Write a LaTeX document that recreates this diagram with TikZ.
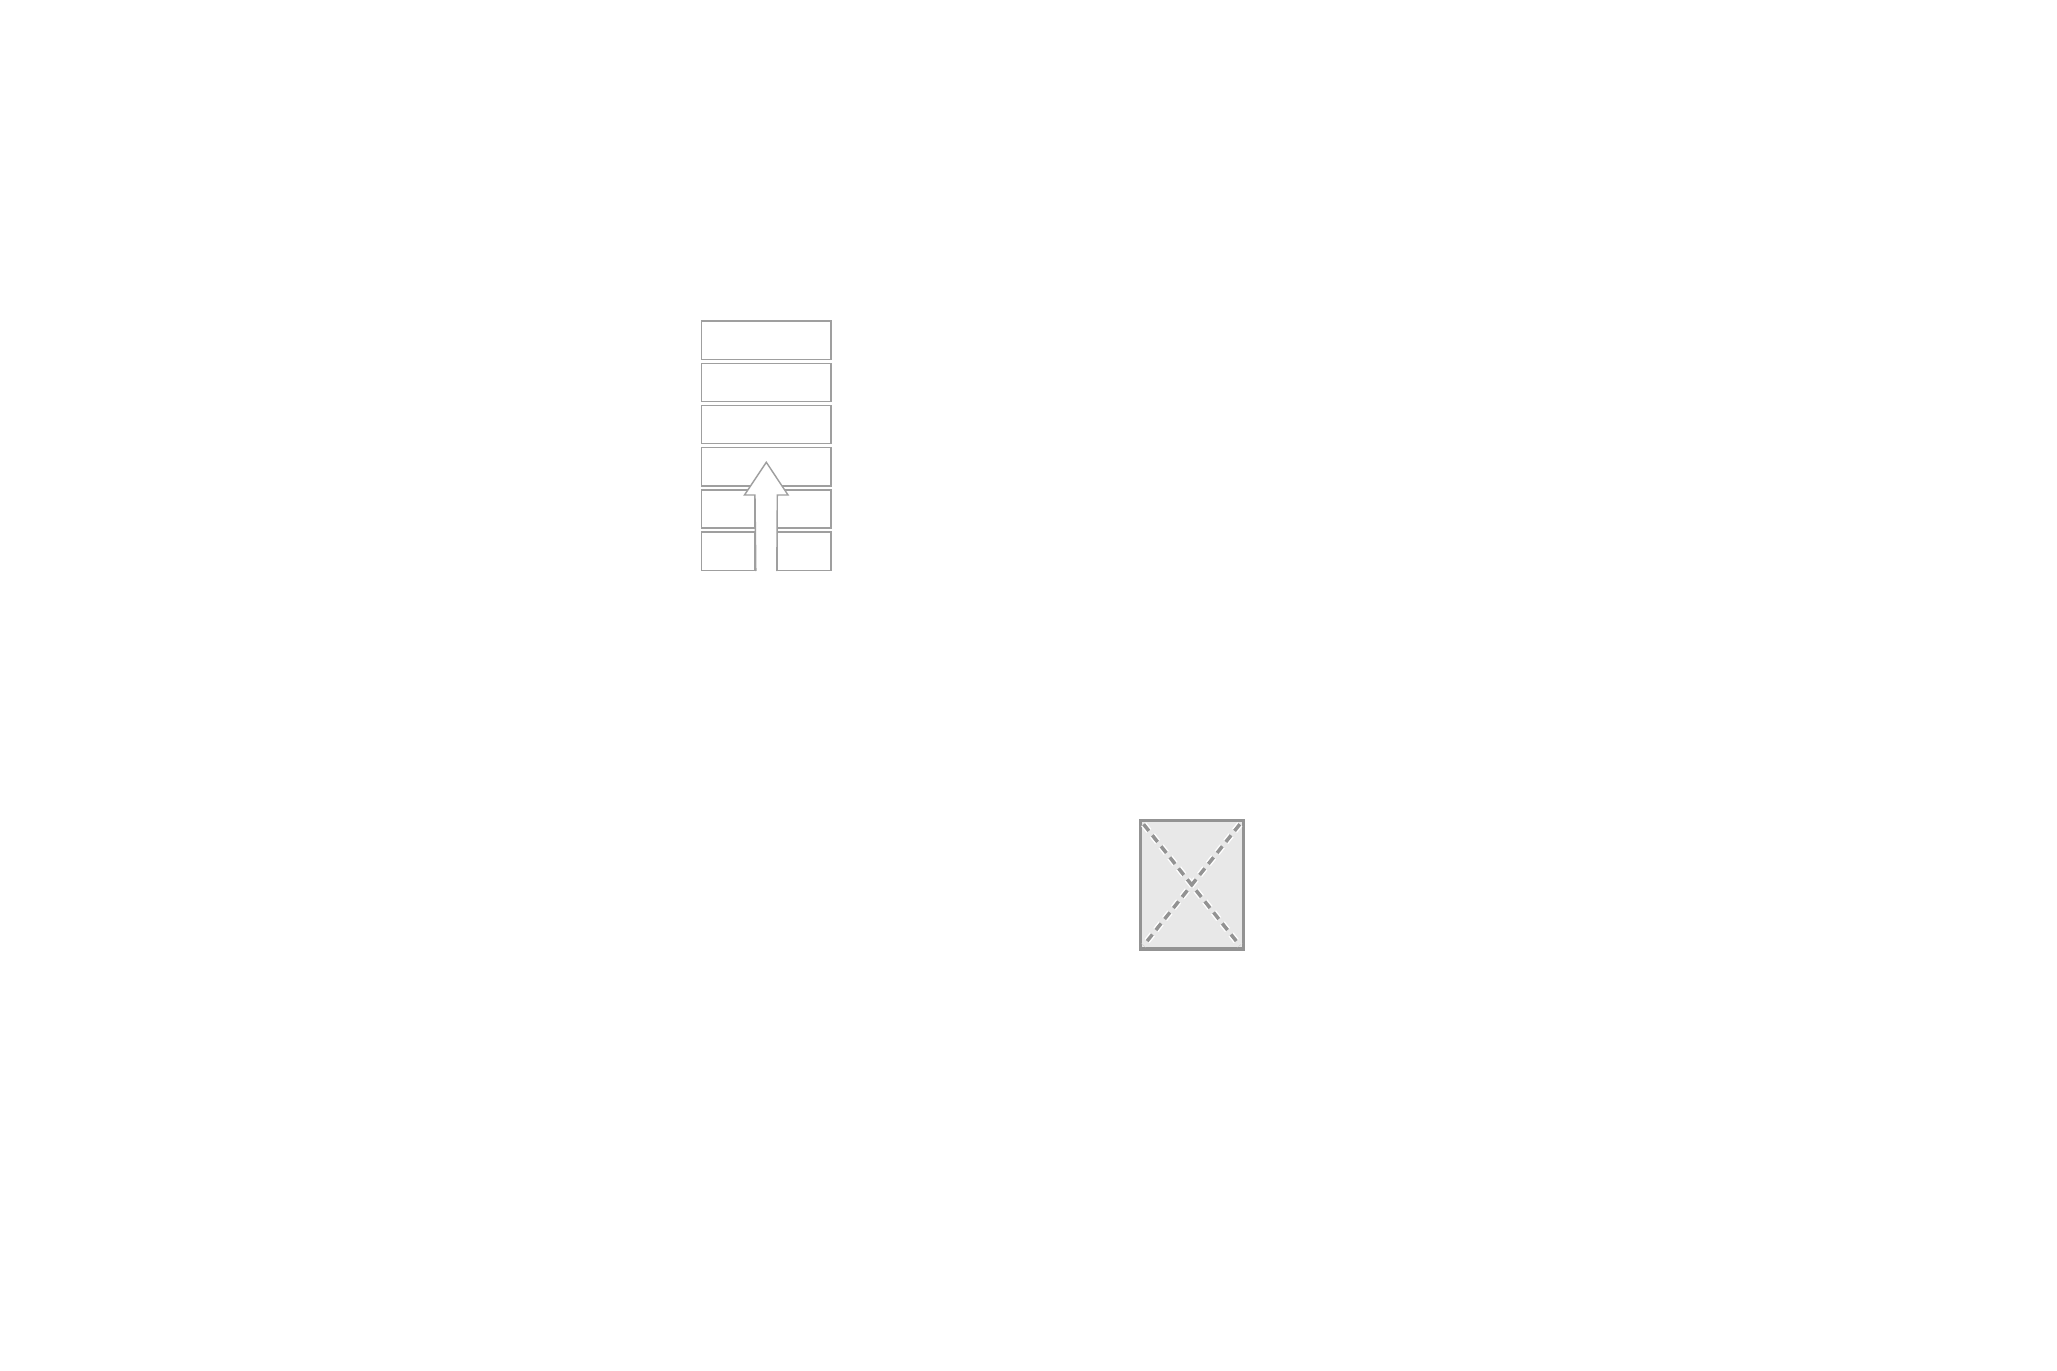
\documentclass[tikz,border=0pt]{standalone}
\usetikzlibrary{positioning}

\tikzset{
    layer/.style={rectangle, draw=gray!75, line width=0.4pt, fill=white, minimum height=0.382cm, inner sep=0pt},
    wide/.style={layer, minimum width=1.293cm},
    half/.style={layer, minimum width=0.534cm}
}

\begin{document}
\begin{tikzpicture}[x=0.01cm, y=-0.01cm]
            \useasboundingbox (0,0) rectangle (2057,1371);
            % Stack
            \node[wide] (l1) at (766.3,340.2) {};
            \node[wide] (l2) at (766.3,382.4) {};
            \node[wide] (l3) at (766.3,424.6) {};
            \node[wide] (l4) at (766.3,466.8) {};
            \node[half] (l5a) at (728.4,509.0) {};
            \node[half] (l5b) at (804.2,509.0) {};
            \node[half] (l6a) at (728.4,551.2) {};
            \node[half] (l6b) at (804.2,551.2) {};
            % Arrow
            \coordinate (tip) at (766.3,462.3);
            \fill[white] (l6a.south east) -- (755,495) -- (744.5,495) -- (tip) -- (788,495) -- (777.3,495) -- (l6b.south west) -- cycle;
            \draw[gray!75, line width=0.4pt, line join=miter] (l6a.south east) -- (755,495) -- (744.5,495) -- (tip) -- (788,495) -- (777.3,495) -- (l6b.south west);
            % Placeholder
            \node[rectangle, draw=gray!85, line width=0.9pt, fill=gray!18, minimum width=1.03cm, minimum height=1.28cm, inner sep=0pt] (img) at (1191.7,884.9) {};
            \draw[white, line width=1.8pt, dash pattern=on 2.4pt off 1.6pt] ([shift={(5,5)}]img.north west) -- ([shift={(-5,-5)}]img.south east);
            \draw[white, line width=1.8pt, dash pattern=on 2.4pt off 1.6pt] ([shift={(-5,5)}]img.north east) -- ([shift={(5,-5)}]img.south west);
            \draw[gray!85, line width=1pt, dash pattern=on 2.4pt off 1.6pt] ([shift={(5,5)}]img.north west) -- ([shift={(-5,-5)}]img.south east);
            \draw[gray!85, line width=1pt, dash pattern=on 2.4pt off 1.6pt] ([shift={(-5,5)}]img.north east) -- ([shift={(5,-5)}]img.south west);

        \end{tikzpicture}
\end{document}
